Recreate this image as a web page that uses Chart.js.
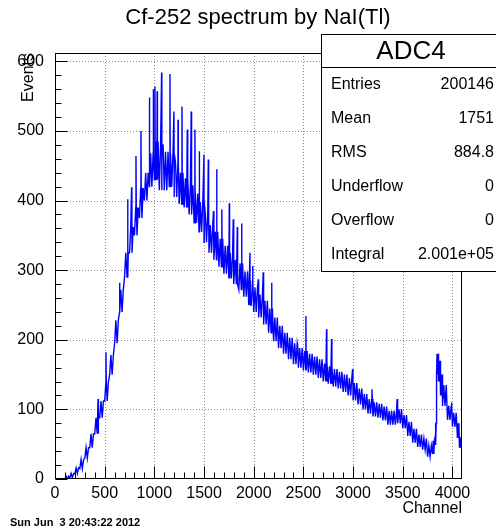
<!doctype html>
<html lang="en">
<head>
<meta charset="UTF-8" />
<title>Cf-252 spectrum by NaI(Tl)</title>
<style>
    html, body { margin: 0; padding: 0; background: #fff; }
    .chartBox { width: 496px; height: 531px; }
</style>
</head>
<body>
<div class="chartBox">
    <canvas id="myChart" width="496" height="531"></canvas>
</div>

<script src="https://cdn.jsdelivr.net/npm/chart.js"></script>
<script>
// setup - values (lower / upper edge of the noisy band)
const channels = [0, 50, 100, 150, 200, 250, 300, 350, 400, 450, 500, 550, 600, 650, 700, 750, 800, 850, 900, 950,
    1000, 1050, 1100, 1150, 1200, 1250, 1300, 1350, 1400, 1450, 1500, 1550, 1600, 1650, 1700, 1750, 1800, 1850, 1900, 1950,
    2000, 2050, 2100, 2150, 2200, 2250, 2300, 2350, 2400, 2450, 2500, 2550, 2600, 2650, 2700, 2750, 2800, 2850, 2900, 2950,
    3000, 3050, 3100, 3150, 3200, 3250, 3300, 3350, 3400, 3450, 3500, 3550, 3600, 3650, 3700, 3750, 3800, 3825, 3840, 3860,
    3880, 3900, 3950, 4000, 4050, 4070];
const lowCounts = [0, 0, 0, 2, 8, 15, 30, 45, 65, 88, 112, 150, 195, 240, 290, 325, 350, 375, 400, 420,
    430, 415, 415, 420, 405, 395, 390, 380, 368, 355, 340, 325, 315, 305, 295, 288, 280, 272, 262, 250,
    240, 232, 222, 210, 198, 188, 180, 172, 165, 160, 156, 153, 150, 145, 140, 137, 133, 130, 125, 120,
    113, 107, 100, 94, 90, 88, 84, 78, 78, 80, 73, 62, 52, 46, 42, 32, 36, 50, 150, 140,
    120, 105, 85, 75, 60, 45];
const highCounts = [0, 0, 4, 8, 16, 28, 45, 65, 88, 112, 140, 178, 228, 272, 325, 362, 390, 418, 440, 468,
    485, 480, 470, 468, 455, 440, 432, 422, 410, 398, 382, 365, 355, 345, 335, 325, 315, 310, 298, 285,
    275, 265, 256, 245, 232, 220, 210, 203, 195, 188, 184, 180, 176, 172, 166, 162, 158, 154, 150, 145,
    138, 130, 122, 115, 110, 108, 104, 98, 98, 100, 92, 82, 72, 64, 58, 48, 55, 80, 180, 170,
    150, 135, 105, 95, 80, 60];
const spikeChannels = [433, 513, 650, 731, 771, 815, 865, 950, 989, 1006, 1028, 1073, 1157, 1197, 1238, 1278, 1331, 1371,
    1408, 1452, 1499, 1543, 1595, 1627, 1679, 1754, 1794, 1835, 1878, 1962, 1989, 2046, 2096, 2180, 2440, 2525, 2733,
    2783, 2995, 3190, 3443, 3991];
const spikeCounts = [115, 182, 282, 402, 419, 464, 500, 548, 560, 564, 557, 584, 582, 528, 516, 535, 502, 528,
    502, 471, 466, 459, 385, 445, 387, 396, 373, 362, 367, 325, 306, 287, 297, 282, 191, 234, 215,
    201, 158, 129, 115, 110];
const xTicks = [0, 500, 1000, 1500, 2000, 2500, 3000, 3500, 4000];
const yTicks = [0, 100, 200, 300, 400, 500, 600];
const statLabels = ["Entries", "Mean", "RMS", "Underflow", "Overflow", "Integral"];
const statValues = ["200146", "1751", "884.8", "0", "0", "2.001e+05"];
const xMax = 4096;
const yMax = 612;

// each read bin swings between its lower and upper edge
const band = [];
channels.forEach((c, i) => {
    const next = i < channels.length - 1 ? channels[i + 1] : c + 26;
    const w = (next - c) / 4;
    for (let k = 0; k < 4; k++) {
        band.push({ x: c + k * w, y: k % 2 === 0 ? lowCounts[i] : highCounts[i] });
    }
});
const points = band.slice();
spikeChannels.forEach((s, i) => {
    let base = 0;
    band.forEach((p) => { if (p.x <= s) base = p.y; });
    points.push({ x: s, y: spikeCounts[i] });
    points.push({ x: s + 3, y: base });
});
points.sort((a, b) => a.x - b.x);

const FONT = "'Liberation Sans', Arial, Helvetica, sans-serif";

// plugin: ROOT style frame, grid, ticks and stats box
const rootFrame = {
    id: "rootFrame",
    beforeDatasetsDraw(chart) {
        const { ctx, chartArea: { left, top, right, bottom }, scales: { x, y } } = chart;
        ctx.save();
        ctx.strokeStyle = "#8c8c8c";
        ctx.lineWidth = 1;
        ctx.setLineDash([1, 2]);
        ctx.beginPath();
        xTicks.slice(1).forEach((v) => {
            const px = Math.round(x.getPixelForValue(v)) + 0.5;
            ctx.moveTo(px, top);
            ctx.lineTo(px, bottom);
        });
        yTicks.slice(1).forEach((v) => {
            const py = Math.round(y.getPixelForValue(v)) + 0.5;
            ctx.moveTo(left, py);
            ctx.lineTo(right, py);
        });
        ctx.stroke();
        ctx.restore();
    },
    afterDatasetsDraw(chart) {
        const { ctx, chartArea: { left, top, right, bottom }, scales: { x, y } } = chart;
        const L = Math.round(left) + 0.5, R = Math.round(right) - 0.5;
        const T = Math.round(top) + 0.5, B = Math.round(bottom) - 0.5;
        ctx.save();
        ctx.strokeStyle = "#000";
        ctx.lineWidth = 1;
        ctx.strokeRect(L, T, R - L, B - T);

        // ticks
        ctx.beginPath();
        for (let v = 0; v <= xMax; v += 100) {
            const px = Math.round(x.getPixelForValue(v)) + 0.5;
            const len = v % 500 === 0 ? 12 : 6;
            ctx.moveTo(px, B);
            ctx.lineTo(px, B - len);
        }
        for (let v = 0; v <= yMax; v += 20) {
            const py = Math.round(y.getPixelForValue(v)) + 0.5;
            const len = v % 100 === 0 ? 12 : 6;
            ctx.moveTo(L, py);
            ctx.lineTo(L + len, py);
        }
        ctx.stroke();

        // titles
        ctx.fillStyle = "#000";
        ctx.font = "22px " + FONT;
        ctx.textAlign = "center";
        ctx.textBaseline = "middle";
        ctx.fillText("Cf-252 spectrum by NaI(Tl)", 258, 18);

        ctx.font = "16px " + FONT;
        ctx.textAlign = "right";
        ctx.fillText("Channel", R + 0.5, 509);

        ctx.save();
        ctx.translate(33, T - 0.5);
        ctx.rotate(-Math.PI / 2);
        ctx.textBaseline = "alphabetic";
        ctx.textAlign = "right";
        ctx.fillText("Events", 0, 0);
        ctx.restore();

        ctx.font = "bold 11px " + FONT;
        ctx.textAlign = "left";
        ctx.fillText("Sun Jun  3 20:43:22 2012", 10, 523);

        // stats box
        const bx = 321.5, by = 34.5, bh = 237, headH = 33;
        ctx.fillStyle = "#fff";
        ctx.fillRect(bx, by, 200, bh);
        ctx.strokeRect(bx, by, 200, bh);
        ctx.beginPath();
        ctx.moveTo(bx, by + headH);
        ctx.lineTo(bx + 200, by + headH);
        ctx.stroke();
        ctx.fillStyle = "#000";
        ctx.font = "26px " + FONT;
        ctx.textAlign = "center";
        ctx.fillText("ADC4", 411, by + headH / 2 + 1);
        const rowH = (bh - headH) / statLabels.length;
        ctx.font = "16px " + FONT;
        statLabels.forEach((name, i) => {
            const ry = by + headH + rowH * (i + 0.5);
            ctx.textAlign = "left";
            ctx.fillText(name, 331, ry);
            ctx.textAlign = "right";
            ctx.fillText(statValues[i], 494, ry);
        });
        ctx.restore();
    },
};

// config
const config = {
    type: "line",
    data: {
        datasets: [
            {
                data: points,
                borderColor: "#0000ff",
                borderWidth: 1.4,
                pointRadius: 0,
                tension: 0,
                fill: false,
            },
        ],
    },
    options: {
        responsive: false,
        animation: false,
        events: [],
        layout: { padding: { left: 0, top: 53, right: 34, bottom: 0 } },
        plugins: { legend: { display: false }, tooltip: { enabled: false }, title: { display: false } },
        scales: {
            x: {
                type: "linear",
                min: 0,
                max: xMax,
                grid: { display: false },
                border: { display: false },
                afterFit(scale) { scale.height = 52; },
                afterBuildTicks(scale) { scale.ticks = xTicks.map((v) => ({ value: v })); },
                ticks: {
                    autoSkip: false,
                    maxRotation: 0,
                    padding: -3,
                    color: "#000",
                    font: { family: FONT, size: 16 },
                    callback: (v) => String(v),
                },
            },
            y: {
                type: "linear",
                min: 0,
                max: yMax,
                grid: { display: false },
                border: { display: false },
                afterFit(scale) { scale.width = 55; },
                afterBuildTicks(scale) { scale.ticks = yTicks.map((v) => ({ value: v })); },
                ticks: {
                    padding: 3,
                    color: "#000",
                    font: { family: FONT, size: 16 },
                    callback: (v) => String(v),
                },
            },
        },
    },
    plugins: [rootFrame],
};

// init
const ctx = document.getElementById("myChart").getContext("2d");
new Chart(ctx, config);
</script>
</body>
</html>
